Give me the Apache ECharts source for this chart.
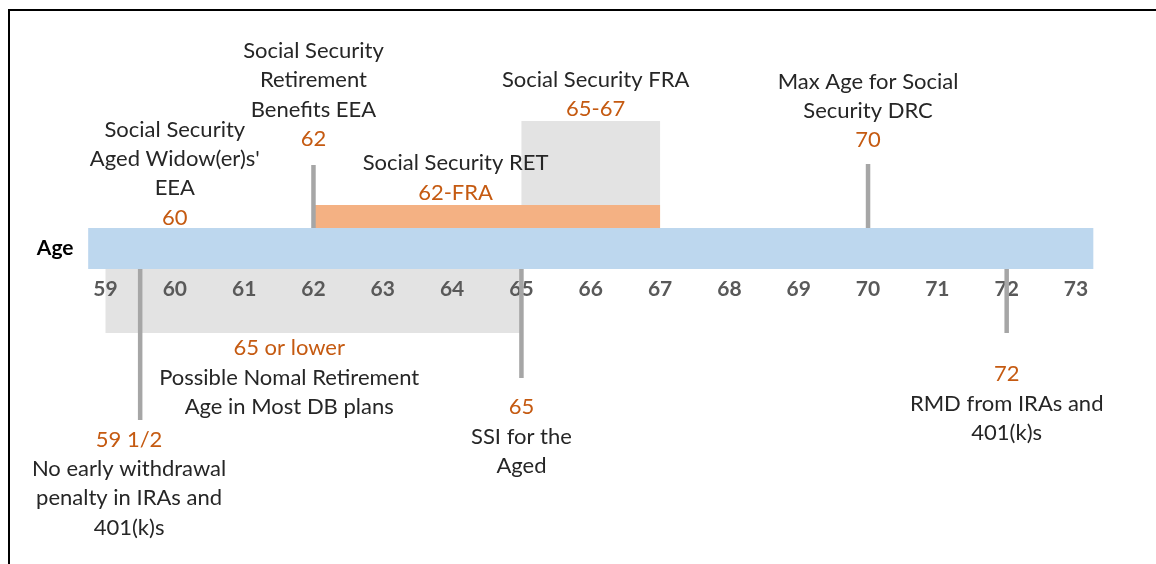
<!DOCTYPE html>
<html>
<head>
<meta charset="utf-8">
<script src="https://cdn.jsdelivr.net/npm/echarts@6/dist/echarts.min.js"></script>
<style>
html,body{margin:0;padding:0;background:#fff;}
#c{width:1156px;height:564px;}
</style>
</head>
<body>
<div id="c"></div>
<script>
// ---- data ----
const ticks = [59, 60, 61, 62, 63, 64, 65, 66, 67, 68, 69, 70, 71, 72, 73];
const ageRange = [58.75, 73.25];
const retSpan = [62, 67];     // Social Security RET 62-FRA
const fraSpan = [65, 67];     // Social Security FRA 65-67
const dbSpan = [59, 65];      // Possible normal retirement age
const markerAges = [62, 70, 59.5, 65, 72];
const eventNames = [
  "Social Security\nAged Widow(er)s'\nEEA",
  "Social Security\nRetirement\nBenefits EEA",
  "Social Security RET",
  "Social Security FRA",
  "Max Age for Social\nSecurity DRC",
  "Possible Nomal Retirement\nAge in Most DB plans",
  "No early withdrawal\npenalty in IRAs and\n401(k)s",
  "SSI for the\nAged",
  "RMD from IRAs and\n401(k)s"
];
const eventValues = ["60", "62", "62-FRA", "65-67", "70", "65 or lower", "59 1/2", "65", "72"];
const eventAges = [60, 62, 64.05, 66.07, 70, 61.65, 59.34, 65, 72];

// ---- layout (vertical levels, px above the bottom of the age bar) ----
const L = {
  barTop: 41,
  retTop: 64,
  fraTop: 148,
  dbBottom: -64,
  markerEnds: [104, 105, -151, -109, -64],
  textCenters: [95.5, 174, 91, 174.5, 158, -108.5, -214.5, -167.5, -134.5],
  valueFirst: [false, false, false, false, false, true, true, true, true]
};

const BLUE = '#bdd7ee', ORANGE = '#f4b183', GREYBAND = '#e3e3e3', LINE = '#a6a6a6';
const NUM = '#c55a11', TXT = '#262626';
const FONT = 'Lato';
const FS = 22;
const LH = 29.3;

const bands = [
  { span: fraSpan, y0: L.barTop, y1: L.fraTop, color: GREYBAND },
  { span: dbSpan, y0: 0, y1: L.dbBottom, color: GREYBAND },
  { span: ageRange, y0: 0, y1: L.barTop, color: BLUE },
  { span: retSpan, y0: L.barTop, y1: L.retTop, color: ORANGE }
];

const chart = echarts.init(document.getElementById('c'));

function rectItem(params, api) {
  const b = bands[params.dataIndex];
  const p0 = api.coord([api.value(0), b.y0]);
  const p1 = api.coord([api.value(1), b.y1]);
  return {
    type: 'rect',
    shape: { x: Math.min(p0[0], p1[0]), y: Math.min(p0[1], p1[1]), width: Math.abs(p1[0] - p0[0]), height: Math.abs(p1[1] - p0[1]) },
    style: { fill: b.color }
  };
}

function lineItem(params, api) {
  const i = params.dataIndex;
  const y0 = L.markerEnds[i] > 0 ? L.barTop : 0;
  const p0 = api.coord([api.value(0), y0]);
  const p1 = api.coord([api.value(0), L.markerEnds[i]]);
  return {
    type: 'line',
    shape: { x1: p0[0], y1: p0[1], x2: p1[0], y2: p1[1] },
    style: { stroke: LINE, lineWidth: 4.5 }
  };
}

function textItem(params, api) {
  const i = params.dataIndex;
  const p = api.coord([api.value(0), L.textCenters[i]]);
  const nameLines = eventNames[i].split('\n').map(s => '{d|' + s + '}');
  const v = '{v|' + eventValues[i] + '}';
  const lines = L.valueFirst[i] ? [v].concat(nameLines) : nameLines.concat([v]);
  return {
    type: 'text',
    x: p[0], y: p[1],
    style: {
      text: lines.join('\n'),
      align: 'center',
      verticalAlign: 'middle',
      font: FS + 'px "' + FONT + '"',
      lineHeight: LH,
      rich: {
        d: { fill: TXT, fontSize: FS, fontFamily: FONT, lineHeight: LH },
        v: { fill: NUM, fontSize: FS, fontFamily: FONT, lineHeight: LH }
      }
    }
  };
}

chart.setOption({
  animation: false,
  backgroundColor: '#fff',
  grid: { left: 105.5, right: 80, top: 228, bottom: 295 },
  xAxis: {
    type: 'value', min: ticks[0], max: ticks[ticks.length - 1], interval: 1, z: 5,
    axisLine: { show: false }, axisTick: { show: false }, splitLine: { show: false },
    axisLabel: { margin: 10, color: '#595959', fontWeight: 'bold', fontSize: 21, fontFamily: FONT }
  },
  yAxis: {
    type: 'value', min: 0, max: L.barTop,
    axisLine: { show: false }, axisTick: { show: false }, splitLine: { show: false }, axisLabel: { show: false },
    name: 'Age', nameLocation: 'middle', nameRotate: 0, nameGap: 32,
    nameTextStyle: { color: '#000', fontWeight: 'bold', fontSize: 21, fontFamily: FONT, align: 'right', verticalAlign: 'middle' }
  },
  series: [
    { type: 'custom', clip: false, silent: true, z: 1, renderItem: rectItem,
      encode: { x: [0, 1] }, data: bands.map(b => [b.span[0], b.span[1]]) },
    { type: 'custom', clip: false, silent: true, z: 8, renderItem: lineItem,
      encode: { x: 0 }, data: markerAges.map(a => [a]) },
    { type: 'custom', clip: false, silent: true, z: 8, renderItem: textItem,
      encode: { x: 0 }, data: eventAges.map(a => [a]) }
  ],
  graphic: [
    { type: 'line', shape: { x1: 8, y1: 10, x2: 1156, y2: 10 }, style: { stroke: '#000', lineWidth: 2 } },
    { type: 'line', shape: { x1: 9, y1: 10, x2: 9, y2: 564 }, style: { stroke: '#000', lineWidth: 2 } }
  ]
});
</script>
</body>
</html>
